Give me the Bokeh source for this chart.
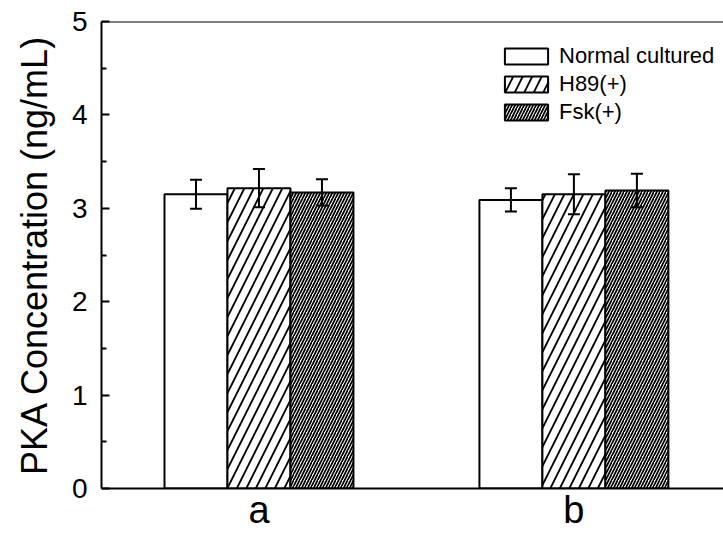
from bokeh.plotting import figure
from bokeh.models import ColumnDataSource, Whisker, TeeHead, Span, FixedTicker, Legend, LegendItem
from bokeh.embed import file_html
from bokeh.resources import INLINE

groups = ["a", "b"]
group_x = [1, 2]
series = ["Normal cultured", "H89(+)", "Fsk(+)"]
normal = [3.15, 3.09]
normal_err = [0.155, 0.125]
h89 = [3.215, 3.15]
h89_err = [0.205, 0.215]
fsk = [3.17, 3.19]
fsk_err = [0.14, 0.18]
y_ticks = [0, 1, 2, 3, 4, 5]
y_minor = [0.5, 1.5, 2.5, 3.5, 4.5]

FONT = "Liberation Sans"

p = figure(width=723, height=533, x_range=(0.5, 2.475), y_range=(0, 5),
           output_backend="svg", toolbar_location=None,
           min_border_left=101, min_border_top=21, min_border_right=0, min_border_bottom=43)
p.outline_line_color = None
p.xgrid.grid_line_color = None
p.ygrid.grid_line_color = None

offsets = [-0.2, 0.0, 0.2]
vals = [normal, h89, fsk]
errs = [normal_err, h89_err, fsk_err]
styles = [
    dict(hatch_pattern=" "),
    dict(hatch_pattern="/", hatch_scale=19, hatch_weight=1.8, hatch_color="black"),
    dict(hatch_pattern="/", hatch_scale=6, hatch_weight=1.7, hatch_color="black"),
]

items = []
for name, off, v, e, st in zip(series, offsets, vals, errs, styles):
    xs = [g + off for g in group_x]
    src = ColumnDataSource(dict(x=xs, top=v, upper=[a + b for a, b in zip(v, e)],
                                lower=[a - b for a, b in zip(v, e)]))
    r = p.vbar(x="x", top="top", width=0.2, source=src, fill_color="white",
               line_color="black", line_width=2, **st)
    items.append(LegendItem(label=name, renderers=[r]))
    w = Whisker(base="x", upper="upper", lower="lower", source=src, level="annotation",
                line_color="black", line_width=2,
                upper_head=TeeHead(size=12, line_width=2, line_color="black"),
                lower_head=TeeHead(size=12, line_width=2, line_color="black"))
    p.add_layout(w)

p.add_layout(Span(location=5, dimension="width", line_color="black", line_width=2))

legend = Legend(items=items, location=(398, 363), padding=0, margin=0,
                border_line_color=None, background_fill_alpha=0,
                glyph_width=54, glyph_height=20, label_height=17, spacing=2,
                label_standoff=6, label_text_font=FONT, label_text_font_size="22px",
                label_text_color="black")
p.add_layout(legend)

# y axis
ya = p.yaxis[0]
ya.ticker = FixedTicker(ticks=y_ticks, minor_ticks=y_minor)
ya.axis_label = "PKA Concentration (ng/mL)"
ya.axis_label_text_font = FONT
ya.axis_label_text_font_style = "normal"
ya.axis_label_text_font_size = "36px"
ya.axis_label_text_color = "black"
ya.axis_label_standoff = 14
ya.major_label_text_font = FONT
ya.major_label_text_font_size = "28px"
ya.major_label_text_color = "black"
ya.major_label_standoff = 14
ya.major_tick_in = 8
ya.major_tick_out = 0
ya.minor_tick_in = 5
ya.minor_tick_out = 0
ya.axis_line_width = 2
ya.major_tick_line_width = 2
ya.minor_tick_line_width = 2

# x axis
xa = p.xaxis[0]
xa.ticker = FixedTicker(ticks=group_x, minor_ticks=[])
xa.major_label_overrides = {gx: g for gx, g in zip(group_x, groups)}
xa.major_label_text_font = FONT
xa.major_label_text_font_size = "38px"
xa.major_label_text_color = "black"
xa.major_label_standoff = 0
xa.major_tick_in = 0
xa.major_tick_out = 0
xa.minor_tick_in = 0
xa.minor_tick_out = 0
xa.axis_line_width = 2

open("out.html", "w").write(file_html(p, INLINE))
